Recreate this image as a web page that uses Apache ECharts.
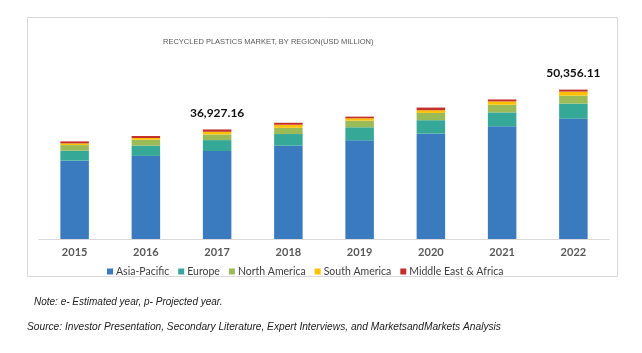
<!DOCTYPE html>
<html>
<head>
<meta charset="utf-8">
<style>
  html, body { margin: 0; padding: 0; background: #fff; }
  #main { width: 642px; height: 353px; }
</style>
<script src="https://cdn.jsdelivr.net/npm/echarts@6/dist/echarts.min.js"></script>
</head>
<body>
<div id="main"></div>
<script>
var chart = echarts.init(document.getElementById('main'));

// data (USD million)
var years = ['2015', '2016', '2017', '2018', '2019', '2020', '2021', '2022'];
var asiaPacific = [26400, 28000, 29647.16, 31450, 33260, 35500, 37970, 40576.11];
var europe = [3360, 3460, 3690, 3930, 4400, 4550, 4700, 5060];
var northAmerica = [1900, 2020, 1910, 2120, 2250, 2450, 2590, 2700];
var southAmerica = [570, 570, 900, 1010, 770, 900, 1110, 1350];
var middleEastAfrica = [670, 670, 780, 670, 570, 900, 670, 670];
var totalLabels = ['', '', '36,927.16', '', '', '', '', '50,356.11'];

var colors = ['#3a7bbf', '#36a898', '#9bbb59', '#ffc000', '#c3302c'];

function bar(name, data) {
    return {
        name: name,
        type: 'bar',
        stack: 'total',
        barWidth: '40%',
        data: data
    };
}

var series = [
    bar('Asia-Pacific', asiaPacific),
    bar('Europe', europe),
    bar('North America', northAmerica),
    bar('South America', southAmerica),
    bar('Middle East & Africa', middleEastAfrica)
];
// totals shown above 2017 and 2022 only
series[4].label = {
    show: true,
    position: 'top',
    distance: 10,
    fontFamily: 'Lato',
    fontWeight: 'bold',
    fontSize: 12,
    color: '#111',
    formatter: function (p) { return totalLabels[p.dataIndex]; }
};

var option = {
    animation: false,
    color: colors,
    title: {
        text: 'RECYCLED PLASTICS MARKET, BY REGION(USD MILLION)',
        left: 158,
        top: 33,
        textStyle: {
            fontFamily: 'Liberation Sans',
            fontSize: 7.5,
            fontWeight: 'normal',
            color: '#595959'
        }
    },
    legend: {
        left: 102,
        top: 261,
        itemWidth: 6,
        itemHeight: 6,
        itemGap: 9,
        icon: 'rect',
        textStyle: {
            fontFamily: 'Lato',
            fontSize: 10.5,
            color: '#404040',
            padding: [0, 0, 0, -2]
        }
    },
    grid: {
        left: 39,
        right: 33,
        top: 61,
        bottom: 114
    },
    xAxis: {
        type: 'category',
        data: years,
        axisTick: { show: false },
        axisLine: { lineStyle: { color: '#d9d9d9', width: 1 } },
        axisLabel: {
            margin: 8,
            fontFamily: 'Lato',
            fontWeight: 'bold',
            fontSize: 11,
            color: '#595959'
        }
    },
    yAxis: {
        type: 'value',
        min: 0,
        max: 60000,
        show: false,
        splitLine: { show: false }
    },
    graphic: [
        {
            type: 'rect',
            shape: { x: 27.5, y: 17.5, width: 590, height: 259 },
            style: { fill: 'none', stroke: '#d9d9d9', lineWidth: 1 },
            z: -1
        },
        {
            type: 'text',
            left: 34,
            top: 297,
            style: {
                text: 'Note: e- Estimated year, p- Projected year.',
                font: 'italic 10px "Liberation Sans"',
                fill: '#222'
            }
        },
        {
            type: 'text',
            left: 27,
            top: 322,
            style: {
                text: 'Source: Investor Presentation, Secondary Literature, Expert Interviews, and MarketsandMarkets Analysis',
                font: 'italic 10.2px "Liberation Sans"',
                fill: '#222'
            }
        }
    ],
    series: series
};

chart.setOption(option);
</script>
</body>
</html>
